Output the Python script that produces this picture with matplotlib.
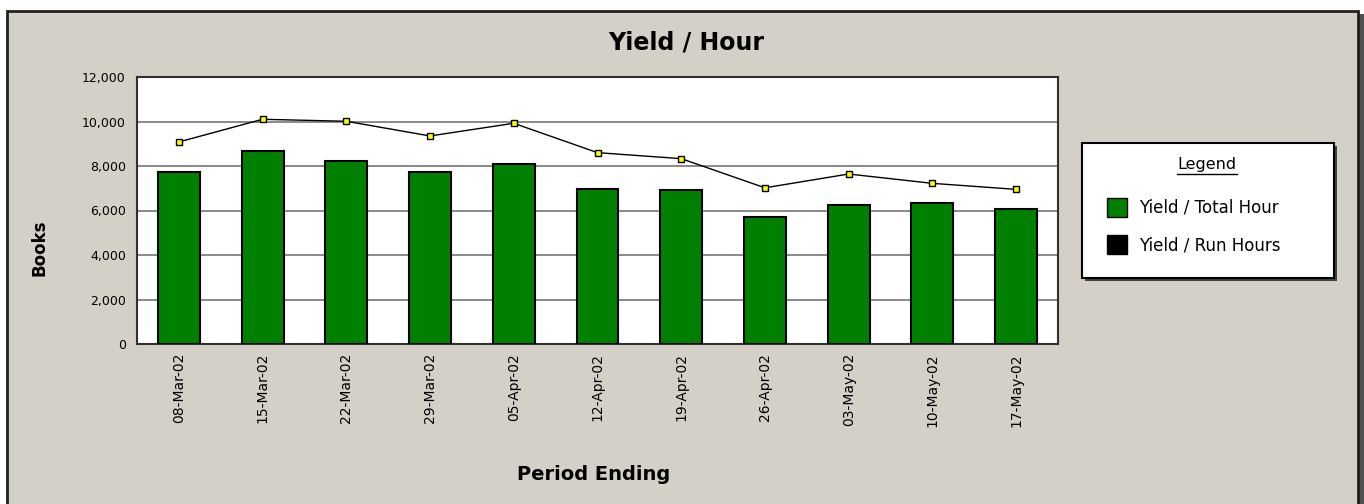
import matplotlib
matplotlib.use("Agg")
import matplotlib.pyplot as plt
from matplotlib.patches import Rectangle
from matplotlib.lines import Line2D
from matplotlib.ticker import FuncFormatter

periods = ['08-Mar-02', '15-Mar-02', '22-Mar-02', '29-Mar-02', '05-Apr-02',
           '12-Apr-02', '19-Apr-02', '26-Apr-02', '03-May-02', '10-May-02',
           '17-May-02']
yield_total_hour = [7730, 8670, 8210, 7730, 8090, 6980, 6900, 5700, 6260, 6350, 6080]
yield_run_hours = [9080, 10100, 10010, 9350, 9920, 8600, 8330, 7020, 7640, 7220, 6950]
yticks = [0, 2000, 4000, 6000, 8000, 10000, 12000]

W, H = 1364, 504
BG = '#D4D0C8'
GREEN = '#008000'


def fx(x):
    return x / W


def fy(y):
    return 1 - y / H


def thousands(v, pos):
    return "{:,.0f}".format(v)


def main():
    fig = plt.figure(figsize=(W / 100, H / 100), dpi=100, facecolor='white')

    # outer panel with shadow
    fig.patches.append(Rectangle((fx(1358), fy(H + 5)), 6 / W, (H - 14 + 5) / H,
                                 transform=fig.transFigure, facecolor='#505050',
                                 edgecolor='none', zorder=0))
    fig.patches.append(Rectangle((fx(7), fy(H + 5)), (1358 - 7) / W, (H + 5 - 11) / H,
                                 transform=fig.transFigure, facecolor=BG,
                                 edgecolor='#202020', linewidth=2, zorder=1))

    ax = fig.add_axes([fx(137), fy(344), (1058 - 137) / W, (344 - 77) / H], zorder=2)
    x = list(range(len(periods)))
    ax.bar(x, yield_total_hour, width=0.5, color=GREEN, edgecolor='black',
           linewidth=1.5, zorder=3)
    ax.plot(x, yield_run_hours, color='black', linewidth=1, marker='s',
            markersize=5, markerfacecolor='#FFFF00', markeredgecolor='black',
            markeredgewidth=1, zorder=4)

    ax.set_xlim(-0.5, len(periods) - 0.5)
    ax.set_ylim(0, 12000)
    ax.set_yticks(yticks)
    ax.yaxis.set_major_formatter(FuncFormatter(thousands))
    ax.set_xticks(x)
    ax.set_xticklabels(periods, rotation=90, fontsize=10, va='top')
    ax.tick_params(axis='y', length=0, pad=8, labelsize=9)
    ax.tick_params(axis='x', length=0, pad=6.5)
    ax.yaxis.grid(True, color='#808080', linewidth=1.3, zorder=1)
    ax.set_axisbelow(True)
    for s in ax.spines.values():
        s.set_color('#303030')
        s.set_linewidth(1.5)

    fig.text(fx(686), fy(43), 'Yield / Hour', ha='center', va='center',
             fontsize=17, fontweight='bold')
    fig.text(fx(594), fy(474), 'Period Ending', ha='center', va='center',
             fontsize=14, fontweight='bold')
    fig.text(fx(40), fy(248), 'Books', ha='center', va='center', rotation=90,
             fontsize=12, fontweight='bold')

    # legend box
    fig.patches.append(Rectangle((fx(1085), fy(281)), (1337 - 1085) / W, (281 - 146) / H,
                                 transform=fig.transFigure, facecolor='#404040',
                                 edgecolor='none', zorder=2))
    fig.patches.append(Rectangle((fx(1082), fy(278)), (1334 - 1082) / W, (278 - 143) / H,
                                 transform=fig.transFigure, facecolor='white',
                                 edgecolor='black', linewidth=1.5, zorder=3))
    fig.text(fx(1207), fy(164), 'Legend', ha='center', va='center', fontsize=11.5,
             zorder=4)
    fig.lines.append(Line2D([fx(1177), fx(1237)], [fy(174), fy(174)],
                            transform=fig.transFigure, color='black',
                            linewidth=1, zorder=4))
    entries = [('Yield / Total Hour', GREEN, 198), ('Yield / Run Hours', 'black', 235)]
    for label, col, top in entries:
        fig.patches.append(Rectangle((fx(1107), fy(top + 19)), 20 / W, 19 / H,
                                     transform=fig.transFigure, facecolor=col,
                                     edgecolor='black', linewidth=1, zorder=4))
        fig.text(fx(1139), fy(top + 10), label, ha='left', va='center',
                 fontsize=12, zorder=4)

    fig.savefig('out.png', dpi=100)


if __name__ == '__main__':
    main()
